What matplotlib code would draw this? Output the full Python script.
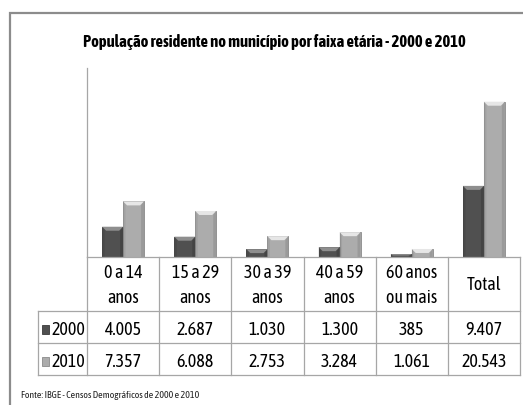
import matplotlib
matplotlib.use("Agg")
import matplotlib.pyplot as plt
from matplotlib.patches import Rectangle, Polygon
from matplotlib.lines import Line2D
import numpy as np

categories = [("0 a 14", "anos"), ("15 a 29", "anos"), ("30 a 39", "anos"),
              ("40 a 59", "anos"), ("60 anos", "ou mais"), ("Total", "")]
series_names = ["2000", "2010"]
values_2000 = [4005, 2687, 1030, 1300, 385, 9407]
values_2010 = [7357, 6088, 2753, 3284, 1061, 20543]
labels_2000 = ["4.005", "2.687", "1.030", "1.300", "385", "9.407"]
labels_2010 = ["7.357", "6.088", "2.753", "3.284", "1.061", "20.543"]
title = "População residente no município por faixa etária - 2000 e 2010"
source = "Fonte: IBGE - Censos Demográficos de 2000 e 2010"

FONT = ["Asap Condensed", "DejaVu Sans"]
plt.rcParams['font.family'] = FONT

W, H = 523, 405
fig = plt.figure(figsize=(W / 100, H / 100), dpi=100)
fig.patch.set_facecolor("white")
fig.canvas.draw()
renderer = fig.canvas.get_renderer()


def fx(px):
    return px / W


def fy(py):
    return 1 - py / H


def fit_size(text, target_px, weight="normal"):
    t = fig.text(0, 0, text, fontsize=10, fontweight=weight)
    w = t.get_window_extent(renderer).width
    t.remove()
    return 10 * target_px / w


# outer frame
fig.patches.append(Rectangle((fx(10), fy(420)), fx(530), fy(12.5) - fy(420),
                             transform=fig.transFigure, fill=False,
                             edgecolor="#8c8c8c", linewidth=1.6))

left, right, top, base = 87, 520, 68, 257
ax = fig.add_axes([fx(left), fy(base), fx(right - left), fy(top) - fy(base)])
ax.set_xlim(-0.5, len(categories) - 0.5)
ax.set_ylim(0, 25000)
for s in ["top", "right", "bottom"]:
    ax.spines[s].set_visible(False)
ax.spines["left"].set_color("#a6a6a6")
ax.spines["left"].set_linewidth(0.9)
ax.set_xticks([])
ax.set_yticks([])
ax.patch.set_alpha(0)

x = np.arange(len(categories))
bw = 0.29
colors = {"2000": ("#505050", "#8e8e8e", "#3a3a3a"),
          "2010": ("#acacac", "#e6e6e6", "#8a8a8a")}
for vals, off, name in [(values_2000, -bw / 2, "2000"), (values_2010, bw / 2, "2010")]:
    body, hi, dark = colors[name]
    bars = ax.bar(x + off, vals, width=bw, color=body, edgecolor=dark, linewidth=0.6, zorder=2)
    for b in bars:
        (x0, y0), (x1, y1) = ax.transData.transform([(b.get_x(), 0), (b.get_x() + b.get_width(), b.get_height())])
        bev = min(4.0, (y1 - y0) / 2)
        inv = ax.transData.inverted()
        pts = inv.transform([(x0, y1), (x1, y1), (x1 - bev, y1 - bev), (x0 + bev, y1 - bev)])
        ax.add_patch(Polygon(pts, closed=True, facecolor=hi, edgecolor="none", zorder=3))
        side = inv.transform([(x1 - 3, y0), (x1, y0), (x1, y1), (x1 - 3, y1 - bev)])
        ax.add_patch(Polygon(side, closed=True, facecolor=dark, edgecolor="none", alpha=0.5, zorder=3))
        sidel = inv.transform([(x0, y0), (x0 + 2.5, y0), (x0 + 2.5, y1 - bev), (x0, y1)])
        ax.add_patch(Polygon(sidel, closed=True, facecolor=dark, edgecolor="none", alpha=0.3, zorder=3))

# title
ts = fit_size(title, 378, "bold")
fig.text(fx(274), fy(47), title, ha="center", va="baseline", fontsize=ts, fontweight="bold", color="black")

# table
lc = "#a6a6a6"
cols = [left + i * (right - left) / len(categories) for i in range(len(categories) + 1)]
rows = [257, 311, 343, 375]
legend_left = 38


def hline(y, xa, xb):
    fig.lines.append(Line2D([fx(xa), fx(xb)], [fy(y), fy(y)], transform=fig.transFigure, color=lc, linewidth=0.9))


def vline(xp, ya, yb):
    fig.lines.append(Line2D([fx(xp), fx(xp)], [fy(ya), fy(yb)], transform=fig.transFigure, color=lc, linewidth=0.9))


hline(rows[0], left, right)
for r in rows[1:]:
    hline(r, legend_left, right)
for c in cols:
    vline(c, rows[0], rows[3])
vline(legend_left, rows[1], rows[3])

fs = (fit_size("20.543", 41) + fit_size("0 a 14", 41)) / 2
for i, (l1, l2) in enumerate(categories):
    cx = (cols[i] + cols[i + 1]) / 2
    if l2:
        fig.text(fx(cx), fy(278), l1, ha="center", va="baseline", fontsize=fs, color="black")
        fig.text(fx(cx), fy(303), l2, ha="center", va="baseline", fontsize=fs, color="black")
    else:
        fig.text(fx(cx), fy(290), l1, ha="center", va="baseline", fontsize=fs, color="black")
    fig.text(fx(cx), fy(335), labels_2000[i], ha="center", va="baseline", fontsize=fs, color="black")
    fig.text(fx(cx), fy(367), labels_2010[i], ha="center", va="baseline", fontsize=fs, color="black")

for k, (name, bl) in enumerate(zip(series_names, [335, 367])):
    body, hi, dark = colors[name]
    fig.patches.append(Rectangle((fx(42), fy(bl - 1)), fx(7), fy(bl - 10) - fy(bl - 1),
                                 transform=fig.transFigure, facecolor=body, edgecolor=dark, linewidth=0.6))
    fig.text(fx(51), fy(bl), name, ha="left", va="baseline", fontsize=fs, color="black")

ss = fit_size(source, 179)
fig.text(fx(21), fy(398), source, ha="left", va="baseline", fontsize=ss, color="#222222")

fig.savefig("out.png", dpi=100)
